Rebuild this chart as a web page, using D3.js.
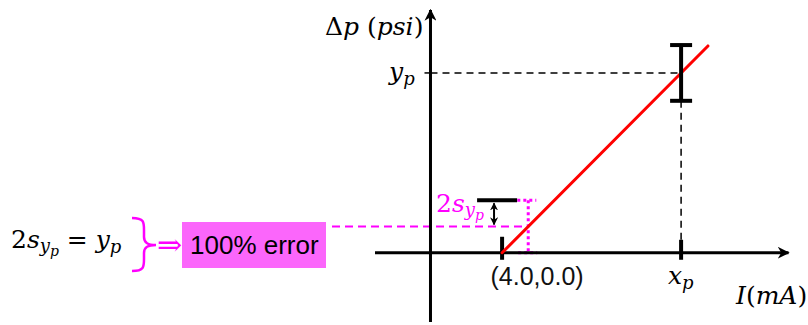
<!DOCTYPE html>
<html>
<head>
<meta charset="utf-8">
<script src="https://cdn.jsdelivr.net/npm/d3@7"></script>
<style>
  html, body { margin: 0; padding: 0; background: #fff; }
  svg { display: block; }
  .math { font-family: "DejaVu Serif", "Liberation Serif", serif; }
  .sans { font-family: "Liberation Sans", Arial, sans-serif; }
</style>
</head>
<body>
<svg id="chart" width="808" height="325"></svg>
<script>
// Calibration line: pressure drop vs. current, with the error bar at (x_p, y_p)
// and the point where the uncertainty equals the reading (100 % error).
const xDomain = [-3.1, 20.0];         // I (mA), axis extent
const yDomain = [-0.385, 1.35];       // Δp (psi, normalised to y_p), axis extent
const zeroPoint = [4.0, 0.0];         // intercept of the calibration line
const xp = 14.0;                      // reading x_p
const yp = 1.0;                       // reading y_p
const lineEndX = 15.5;                // right end of the drawn calibration line
const sy = 0.146;                     // s_{y_p}
const errHalf = 0.155;                // half-height of the error bar at x_p
const arrowX = 3.55;                  // position of the 2s double arrow
const labelOrigin = "(4.0,0.0)";
const errorLabel = "100% error";

const svg = d3.select("#chart");
const x = d3.scaleLinear().domain(xDomain).range([375, 788.5]);
const y = d3.scaleLinear().domain(yDomain).range([322, 10]);

const magenta = "#ff00ff";
const slope = (yp - zeroPoint[1]) / (xp - zeroPoint[0]);
const lineY = v => zeroPoint[1] + slope * (v - zeroPoint[0]);
const xAtS = zeroPoint[0] + (sy - zeroPoint[1]) / slope;

// arrow markers
const defs = svg.append("defs");
function marker(id, color, w, h) {
  defs.append("marker").attr("id", id)
    .attr("viewBox", "0 0 10 10").attr("refX", 9).attr("refY", 5)
    .attr("markerUnits", "userSpaceOnUse")
    .attr("markerWidth", w).attr("markerHeight", h)
    .attr("orient", "auto-start-reverse")
    .append("path").attr("d", "M0,0 L10,5 L0,10 L3,5 Z").attr("fill", color);
}
marker("axisArrow", "#000", 12, 12);
marker("smallArrow", "#000", 8, 8);

// dashed guides to y_p and x_p
svg.append("line")
  .attr("x1", x(0)).attr("x2", x(xp)).attr("y1", y(yp)).attr("y2", y(yp))
  .attr("stroke", "#000").attr("stroke-width", 1.5).attr("stroke-dasharray", "7,5");
svg.append("line")
  .attr("x1", x(xp)).attr("x2", x(xp)).attr("y1", y(yp - errHalf)).attr("y2", y(0))
  .attr("stroke", "#000").attr("stroke-width", 1.5).attr("stroke-dasharray", "7,5");

// magenta dashed line at s_{y_p}
svg.append("line")
  .attr("x1", 332).attr("x2", x(xAtS)).attr("y1", y(sy)).attr("y2", y(sy))
  .attr("stroke", magenta).attr("stroke-width", 1.8).attr("stroke-dasharray", "8,5");

// magenta dotted box around the 2s interval
const dotted = [
  [[zeroPoint[0] + 0.85, 2 * sy], [xAtS + 0.45, 2 * sy]],
  [[xAtS, 2 * sy], [xAtS, 0]],
  [[zeroPoint[0] + 0.9, 0], [xAtS + 0.5, 0]]
];
svg.selectAll(".dot").data(dotted).enter().append("line")
  .attr("x1", d => x(d[0][0])).attr("y1", d => y(d[0][1]))
  .attr("x2", d => x(d[1][0])).attr("y2", d => y(d[1][1]))
  .attr("stroke", magenta).attr("stroke-width", 3).attr("stroke-dasharray", "3,3");

// axes
svg.append("line")
  .attr("x1", x(xDomain[0])).attr("x2", x(xDomain[1])).attr("y1", y(0)).attr("y2", y(0))
  .attr("stroke", "#000").attr("stroke-width", 3).attr("marker-end", "url(#axisArrow)");
svg.append("line")
  .attr("x1", x(0)).attr("x2", x(0)).attr("y1", y(yDomain[0])).attr("y2", y(yDomain[1]))
  .attr("stroke", "#000").attr("stroke-width", 3).attr("marker-end", "url(#axisArrow)");

// tick marks at the intercept and at x_p, small tick at y_p
svg.append("line")
  .attr("x1", x(zeroPoint[0])).attr("x2", x(zeroPoint[0]))
  .attr("y1", y(0) - 16).attr("y2", y(0) + 7)
  .attr("stroke", "#000").attr("stroke-width", 4);
svg.append("line")
  .attr("x1", x(xp)).attr("x2", x(xp))
  .attr("y1", y(0) - 13).attr("y2", y(0) + 7)
  .attr("stroke", "#000").attr("stroke-width", 4);
svg.append("line")
  .attr("x1", x(0) - 6).attr("x2", x(0)).attr("y1", y(yp)).attr("y2", y(yp))
  .attr("stroke", "#000").attr("stroke-width", 1.5);

// calibration line
svg.append("line")
  .attr("x1", x(zeroPoint[0])).attr("y1", y(zeroPoint[1]))
  .attr("x2", x(lineEndX)).attr("y2", y(lineY(lineEndX)))
  .attr("stroke", "#ff0000").attr("stroke-width", 3).attr("stroke-linecap", "round");

// error bar at (x_p, y_p)
const capW = 11;
const eb = svg.append("g").attr("stroke", "#000").attr("stroke-width", 4);
eb.append("line").attr("x1", x(xp)).attr("x2", x(xp))
  .attr("y1", y(yp + errHalf)).attr("y2", y(yp - errHalf));
[yp + errHalf, yp - errHalf].forEach(v => {
  eb.append("line").attr("x1", x(xp) - capW).attr("x2", x(xp) + capW)
    .attr("y1", y(v)).attr("y2", y(v));
});

// upper cap of the 2s interval at the intercept
svg.append("line")
  .attr("x1", x(zeroPoint[0]) - 25).attr("x2", x(zeroPoint[0]) + 15)
  .attr("y1", y(2 * sy)).attr("y2", y(2 * sy))
  .attr("stroke", "#000").attr("stroke-width", 4);

// double arrow spanning s_{y_p}
svg.append("line")
  .attr("x1", x(arrowX)).attr("x2", x(arrowX))
  .attr("y1", y(2 * sy) + 3).attr("y2", y(sy) - 2)
  .attr("stroke", "#000").attr("stroke-width", 2)
  .attr("marker-start", "url(#smallArrow)").attr("marker-end", "url(#smallArrow)");

// ---- text ----
function mathText(xp0, yb, parts, color, size) {
  const t = svg.append("text").attr("class", "math")
    .attr("x", xp0).attr("y", yb).attr("fill", color).attr("font-size", size);
  parts.forEach(p => {
    const s = t.append("tspan").text(p.t)
      .attr("font-style", p.i ? "italic" : "normal");
    if (p.dy) s.attr("dy", p.dy);
    if (p.fs) s.attr("font-size", p.fs);
    if (p.dx) s.attr("dx", p.dx);
  });
  return t;
}

// axis titles
mathText(325, 35, [{t: "Δ"}, {t: "p", i: true}, {t: " ("}, {t: "psi", i: true}, {t: ")"}], "#000", 25);
mathText(736, 304, [{t: "I", i: true}, {t: "("}, {t: "mA", i: true}, {t: ")"}], "#000", 25);

// y_p and x_p labels
mathText(389, 80, [{t: "y", i: true}, {t: "p", i: true, dy: 5, fs: 18}], "#000", 25);
mathText(668, 284, [{t: "x", i: true}, {t: "p", i: true, dy: 5, fs: 18}], "#000", 25);

// magenta 2s_{y_p} label
mathText(436, 212, [{t: "2"}, {t: "s", i: true}, {t: "y", i: true, dy: 4, fs: 18}, {t: "p", i: true, dy: 4, fs: 14}], magenta, 25);

// intercept label
svg.append("text").attr("class", "sans")
  .attr("x", x(zeroPoint[0]) + 35).attr("y", 285).attr("text-anchor", "middle")
  .attr("font-size", 25).attr("fill", "#111").text(labelOrigin);

// left equation 2s_{y_p} = y_p
mathText(11, 248, [
  {t: "2"}, {t: "s", i: true},
  {t: "y", i: true, dy: 4, fs: 18}, {t: "p", i: true, dy: 4, fs: 14},
  {t: " = ", dy: -8}, {t: "y", i: true}, {t: "p", i: true, dy: 5, fs: 18}
], "#000", 25);

// curly brace
const bx = 132, by0 = 218, by1 = 271, bm = 245, bt = 156;
svg.append("path")
  .attr("d", `M${bx},${by0} C${bx + 12},${by0} ${bx + 12},${by0 + 4} ${bx + 12},${by0 + 12}
              L${bx + 12},${bm - 8} C${bx + 12},${bm - 2} ${bx + 16},${bm} ${bt},${bm}
              C${bx + 16},${bm} ${bx + 12},${bm + 2} ${bx + 12},${bm + 8}
              L${bx + 12},${by1 - 12} C${bx + 12},${by1 - 4} ${bx + 12},${by1} ${bx},${by1}`)
  .attr("fill", "none").attr("stroke", magenta).attr("stroke-width", 2.5);

// implication arrow
svg.append("text").attr("class", "math")
  .attr("x", 157).attr("y", 255).attr("font-size", 30).attr("fill", magenta).text("⇒");

// 100% error box
svg.append("rect").attr("x", 182).attr("y", 222).attr("width", 144).attr("height", 46)
  .attr("fill", "#fb66fb");
svg.append("text").attr("class", "sans")
  .attr("x", 190).attr("y", 254).attr("font-size", 26).attr("fill", "#000").text(errorLabel);
</script>
</body>
</html>
